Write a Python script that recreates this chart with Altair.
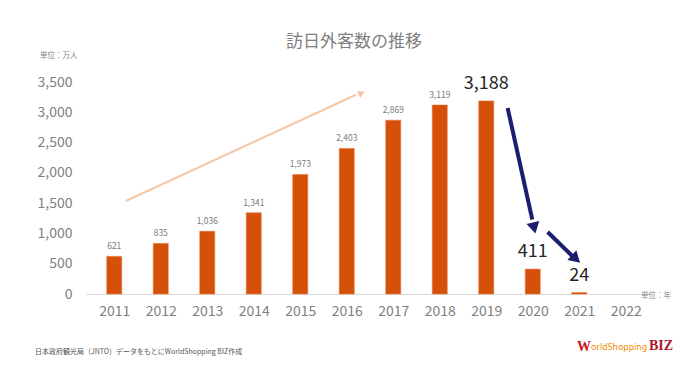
import altair as alt
import pandas as pd

years = [2011, 2012, 2013, 2014, 2015, 2016, 2017, 2018, 2019, 2020, 2021]
visitors = [621, 835, 1036, 1341, 1973, 2403, 2869, 3119, 3188, 411, 24]
tick_years = list(range(2011, 2023))
y_ticks = [0, 500, 1000, 1500, 2000, 2500, 3000, 3500]

big_years = [2019, 2020, 2021]

FONT = "Noto Sans CJK JP"

df = pd.DataFrame({"year": years, "v": visitors})
df["label"] = df["v"].map(lambda v: f"{v:,}")
df["big"] = df["year"].isin(big_years)

xs = alt.Scale(domain=[2010.5, 2022.5], nice=False, zero=False)
ys = alt.Scale(domain=[0, 3500], nice=False)

x_axis = alt.Axis(values=tick_years, format="d", title=None, labelFontSize=14,
                  labelColor="#7f7f7f", labelFont=FONT, labelPadding=10,
                  ticks=False, grid=False, domainColor="#d9d9d9", domainWidth=1,
                  labelOverlap=False, labelFlush=False)
y_axis = alt.Axis(values=y_ticks, format=",.0f", title=None, labelFontSize=14,
                  labelColor="#7f7f7f", labelFont=FONT, labelPadding=14,
                  ticks=False, grid=False, domain=False, labelOverlap=False,
                  labelFlush=False)


def X(field):
    return alt.X(field, scale=xs, axis=x_axis, title=None)


def Y(field):
    return alt.Y(field, scale=ys, axis=y_axis, title=None)


bars = alt.Chart(df).mark_bar(size=15, color="#D55009", stroke="#E5763A", strokeWidth=0.6).encode(
    x=X("year:Q"), y=Y("v:Q"),
)

small_lbl = alt.Chart(df[~df["big"]]).mark_text(dy=-10, fontSize=8.5, color="#7a7a7a", font=FONT).encode(
    x=X("year:Q"), y=Y("v:Q"), text="label:N")

big_lbl = alt.Chart(df[df["big"]]).mark_text(dy=-17, fontSize=18, color="#262626", font=FONT).encode(
    x=X("year:Q"), y=Y("v:Q"), text="label:N")

# arrows (in data coordinates)
arrow_df = pd.DataFrame({
    "x0": [2011.25, 2019.46, 2020.32],
    "y0": [1535, 3071, 1024],
    "x1": [2016.2, 2019.99, 2020.86],
    "y1": [3290, 1230, 620],
    "xt": [2016.32, 2020.03, 2020.93],
    "yt": [3318, 1090, 578],
    "kind": ["up", "down", "down"],
    "ang": [66, 167, 133],
})
col = alt.Scale(domain=["up", "down"], range=["#F8C6A5", "#1B1F6E"])
wid = alt.Scale(domain=["up", "down"], range=[2, 4])
arrow_lines = alt.Chart(arrow_df).mark_rule().encode(
    x=X("x0:Q"), y=Y("y0:Q"),
    x2="x1:Q", y2="y1:Q",
    color=alt.Color("kind:N", scale=col, legend=None),
    strokeWidth=alt.StrokeWidth("kind:N", scale=wid, legend=None),
)
arrow_heads = alt.Chart(arrow_df).mark_point(shape="triangle-up", filled=True, opacity=1).encode(
    x=X("xt:Q"), y=Y("yt:Q"),
    color=alt.Color("kind:N", scale=col, legend=None),
    size=alt.Size("kind:N", scale=alt.Scale(domain=["up", "down"], range=[60, 170]), legend=None),
    angle=alt.Angle("ang:Q", scale=None),
)

# annotation texts
title_txt = alt.Chart(pd.DataFrame({"t": ["訪日外客数の推移"]})).mark_text(
    fontSize=17, color="#7f7f7f", font=FONT, align="center", baseline="middle").encode(
    x=alt.value(268), y=alt.value(-40), text="t:N")
unit_y = alt.Chart(pd.DataFrame({"t": ["単位：万人"]})).mark_text(
    fontSize=7.5, color="#7f7f7f", font=FONT, align="left", baseline="middle").encode(
    x=alt.value(-46), y=alt.value(-26), text="t:N")
unit_x = alt.Chart(pd.DataFrame({"t": ["単位：年"]})).mark_text(
    fontSize=7.5, color="#8a8a8a", font=FONT, align="left", baseline="middle").encode(
    x=alt.value(555), y=alt.value(214), text="t:N")
footer = alt.Chart(pd.DataFrame({"t": ["日本政府観光局（JNTO）データをもとにWorldShopping  BIZ作成"]})).mark_text(
    fontSize=7, color="#555555", font=FONT, align="left", baseline="middle").encode(
    x=alt.value(-51), y=alt.value(270), text="t:N")

logo_df = pd.DataFrame({"t": ["W", "orldShopping", "BIZ"]})
logo_w = alt.Chart(logo_df.iloc[[0]]).mark_text(fontSize=14, font="Liberation Serif", fontWeight="bold",
    color="#C8161D", align="left", baseline="alphabetic").encode(
    x=alt.value(491), y=alt.value(269), text="t:N")
logo_mid = alt.Chart(logo_df.iloc[[1]]).mark_text(fontSize=8.8, font="Noto Sans",
    color="#F08C00", align="left", baseline="alphabetic").encode(
    x=alt.value(505), y=alt.value(268), text="t:N")
logo_biz = alt.Chart(logo_df.iloc[[2]]).mark_text(fontSize=14, font="Liberation Serif", fontWeight="bold",
    color="#B0182A", align="left", baseline="alphabetic").encode(
    x=alt.value(563), y=alt.value(268), text="t:N")

chart = alt.layer(
    bars, small_lbl, big_lbl, arrow_lines, arrow_heads,
    title_txt, unit_y, unit_x, footer, logo_w, logo_mid, logo_biz,
).properties(
    width=568, height=212,
    background="white",
    autosize=alt.AutoSizeParams(type="none"),
    padding={"left": 78, "top": 74, "right": 38, "bottom": 71},
).configure_view(stroke="transparent", strokeOpacity=0)

chart.save("out.html", embed_options={"renderer": "svg", "actions": False})
